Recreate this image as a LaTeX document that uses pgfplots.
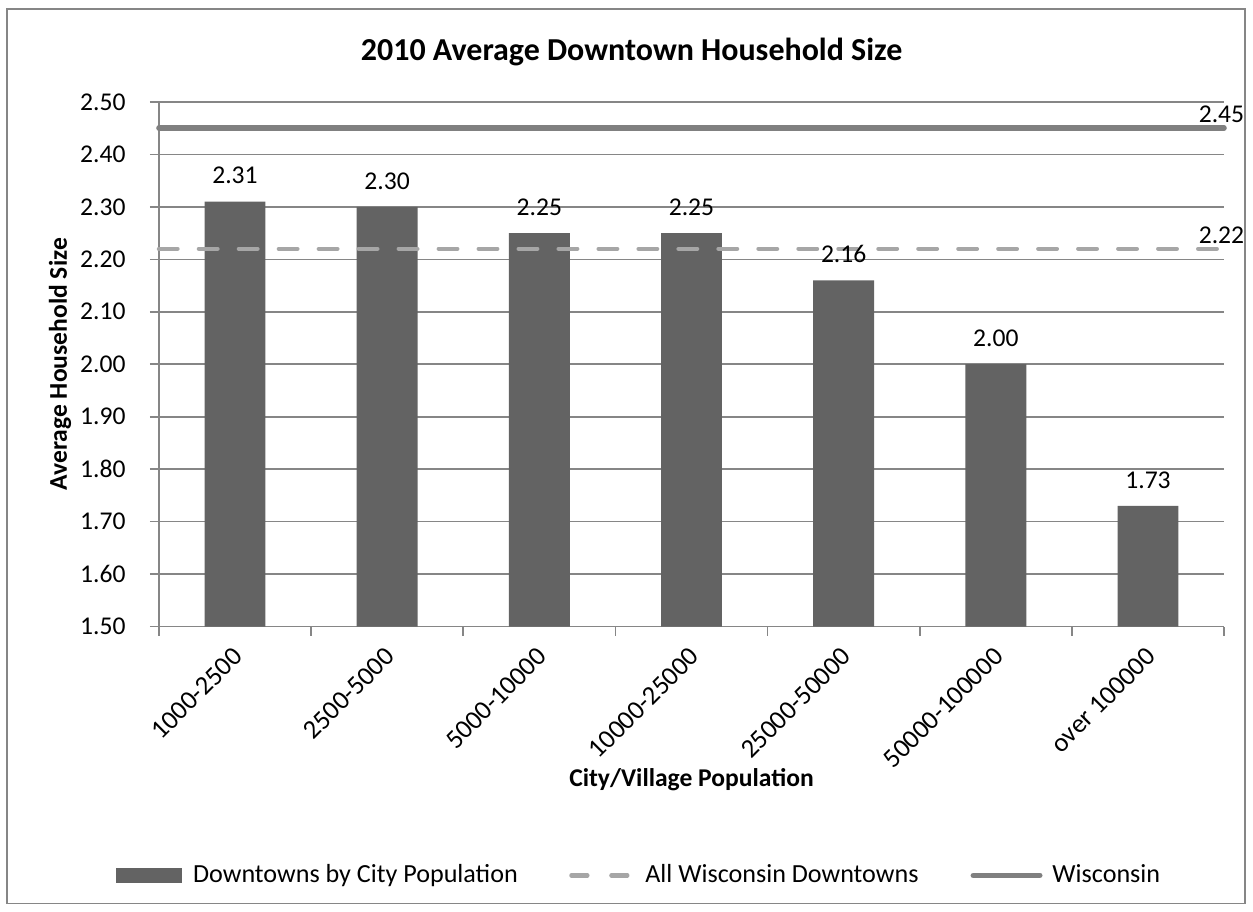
\documentclass[border=0pt]{standalone}
\usepackage{pgfplots}
\pgfplotsset{compat=1.18}
\usepackage{fontspec}
\setmainfont{Carlito}
\definecolor{barcol}{RGB}{99,99,99}
\definecolor{wicol}{RGB}{128,128,128}
\definecolor{dashcol}{RGB}{166,166,166}
\definecolor{gridcol}{RGB}{134,134,134}
\begin{document}
\begin{tikzpicture}
\begin{axis}[
  name=ax,
  at={(0,0)}, anchor=south west,
  scale only axis,
  width=399.75pt, height=196.875pt,
  xmin=-0.5, xmax=6.5,
  ymin=1.5, ymax=2.5,
  ytick={1.5,1.6,...,2.51},
  xtick={0,...,6},
  xticklabels={1000-2500,2500-5000,5000-10000,10000-25000,25000-50000,50000-100000,over 100000},
  minor xtick={-0.5,0.5,...,6.6},
  major x tick style={draw=none},
  tick align=outside,
  major tick length=3.4pt,
  minor tick length=3.4pt,
  axis x line*=bottom,
  axis y line*=left,
  axis line style={draw=gridcol, line width=0.6pt},
  every tick/.style={draw=gridcol, line width=0.6pt},
  ymajorgrids,
  grid style={draw=gridcol, line width=0.6pt},
  clip=false,
  /pgf/number format/assume math mode=true,
  tick label style={font=\fontsize{9.6}{11}\selectfont, text=black},
  yticklabel style={xshift=-5.6pt, /pgf/number format/.cd, fixed, fixed zerofill, precision=2},
  xticklabel style={font=\fontsize{10}{11}\selectfont, xshift=3.5pt, yshift=-3.8pt, rotate=45, anchor=east},
  title={\textbf{2010 Average Downtown Household Size}},
  title style={at={(axis description cs:0.4438,1.0647)}, anchor=center, yshift=0pt, font=\fontsize{12}{14}\selectfont},
  xlabel={\textbf{City/Village Population}},
  xlabel style={at={(axis description cs:0.5,-0.2916)}, anchor=center, font=\fontsize{9.6}{11}\selectfont},
  ylabel={\textbf{Average Household Size}},
  ylabel style={at={(axis description cs:-0.0928,0.5)}, anchor=center, font=\fontsize{9.6}{11}\selectfont},
  legend columns=3,
  legend style={at={(axis description cs:-0.0403,-0.4743)}, anchor=west, draw=none, fill=none,
    inner sep=0pt, font=\fontsize{9.8}{11}\selectfont,
    /tikz/every odd column/.append style={column sep=1.75pt},
    /tikz/every even column/.append style={column sep=16.5pt}},
]
\addplot[ybar, bar width=0.4, fill=barcol, draw=none,
  nodes near coords={\pgfmathprintnumber[fixed,fixed zerofill,precision=2,assume math mode=true]{\pgfplotspointmeta}},
  nodes near coords style={font=\fontsize{9.6}{11}\selectfont, text=black, anchor=south, yshift=3pt},
  legend image code/.code={\path (0pt,0pt) (25pt,0pt); \fill[barcol] (0pt,-2.8pt) rectangle (24.75pt,2.8pt);}]
  coordinates {(0,2.31) (1,2.30) (2,2.25) (3,2.25) (4,2.16) (5,2.00) (6,1.73)};
\addlegendentry{Downtowns by City Population}
\addplot[sharp plot, no marks, draw=dashcol, line width=1.6pt, line cap=round, dash pattern=on 7pt off 8pt,
  legend image code/.code={\path (0pt,0pt) (24pt,0pt); \draw[dashcol, line width=1.6pt, line cap=round, dash pattern=on 6pt off 9pt] (0.8pt,0pt) -- (23pt,0pt);}]
  coordinates {(-0.5,2.22) (6.5,2.22)} node[pos=1, anchor=south, font=\fontsize{9.6}{11}\selectfont, text=black, xshift=-1pt, yshift=-2.2pt] {2.22};
\addlegendentry{All Wisconsin Downtowns}
\addplot[sharp plot, no marks, draw=wicol, line width=2pt, line cap=round,
  legend image code/.code={\path (0pt,0pt) (24pt,0pt); \draw[wicol, line width=2pt, line cap=round] (1pt,0pt) -- (26pt,0pt);}]
  coordinates {(-0.5,2.45) (6.5,2.45)} node[pos=1, anchor=south, font=\fontsize{9.6}{11}\selectfont, text=black, xshift=-1pt, yshift=-2.2pt] {2.45};
\addlegendentry{Wisconsin}
\end{axis}
\draw[gridcol, line width=0.5pt] ([shift={(-57pt,-103.9pt)}]ax.south west) rectangle ([shift={(407.6pt,231.75pt)}]ax.south west);
\useasboundingbox ([shift={(-59.625pt,-106.875pt)}]ax.south west) rectangle ([shift={(410.25pt,235.125pt)}]ax.south west);
\end{tikzpicture}
\end{document}
